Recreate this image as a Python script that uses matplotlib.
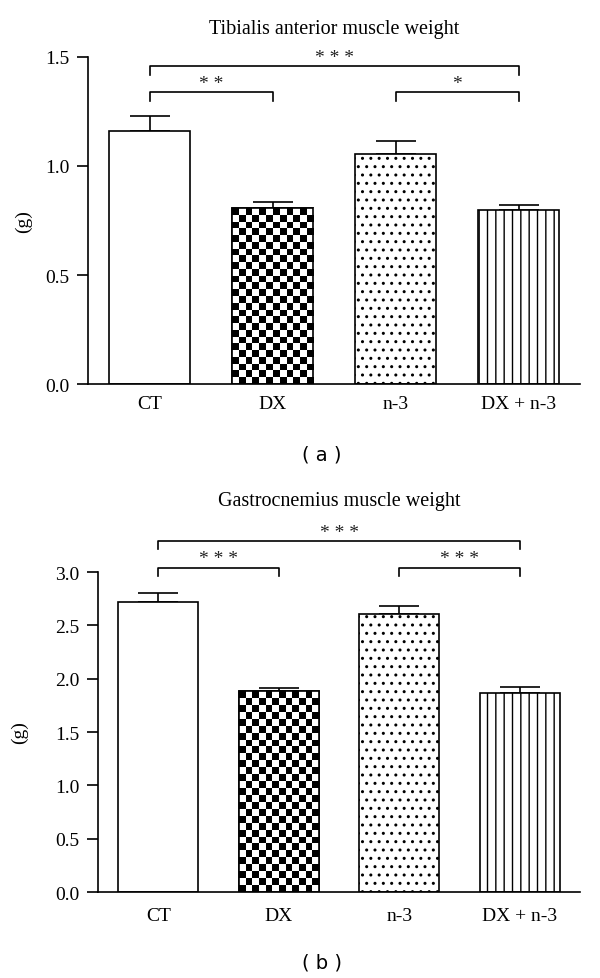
import numpy as np
import matplotlib
matplotlib.use('Agg')
import matplotlib.pyplot as plt

plt.rcParams['font.family'] = ['Liberation Serif', 'DejaVu Serif']
plt.rcParams['hatch.linewidth'] = 1.0

groups = ['CT', 'DX', 'n-3', 'DX + n-3']

# (a) tibialis anterior, g
ta_mean = [1.16, 0.807, 1.055, 0.80]
ta_sem = [0.07, 0.03, 0.06, 0.022]
ta_sig = [(0, 3, 1.457, '* * *'), (0, 1, 1.338, '* *'), (2, 3, 1.338, '*')]

# (b) gastrocnemius, g
gas_mean = [2.72, 1.88, 2.61, 1.865]
gas_sem = [0.08, 0.035, 0.07, 0.06]
gas_sig = [(0, 3, 3.29, '* * *'), (0, 1, 3.04, '* * *'), (2, 3, 3.04, '* * *')]

FS = 14


def checker(ax, bar, cell=6.8):
    # black/white checkerboard clipped to the bar
    bb = bar.get_window_extent()
    nx = max(1, int(round(bb.width / cell)))
    ny = max(1, int(round(bb.height / cell)))
    board = np.add.outer(np.arange(ny), np.arange(nx)) % 2
    x0 = bar.get_x()
    im = ax.imshow(board, cmap='gray', vmin=0, vmax=1, interpolation='nearest',
                   extent=(x0, x0 + bar.get_width(), 0, bar.get_height()),
                   aspect='auto', zorder=2.5)
    im.set_clip_path(bar)


def panel(ax, means, sems, ylim, yticks, sig, drop, title, title_y, ylab_x):
    x = np.arange(len(groups))
    ax.set_xlim(-0.5, 3.5)
    ax.set_ylim(*ylim)
    ax.errorbar(x, means, yerr=[np.zeros(len(sems)), sems], fmt='none',
                ecolor='black', elinewidth=1.2, capsize=14.5, capthick=1.2,
                zorder=1)
    bars = ax.bar(x, means, width=0.66, color='white', edgecolor='black',
                  linewidth=1.2, zorder=2)
    bars[2].set_hatch('..')
    bars[3].set_hatch('||')
    checker(ax, bars[1])
    # redraw DX outline over the checkerboard
    ax.bar(x[1], means[1], width=0.66, fill=False, edgecolor='black',
           linewidth=1.2, zorder=3)
    ax.set_xlim(-0.5, 3.5)
    ax.set_ylim(*ylim)

    for i, j, lvl, txt in sig:
        ax.plot([i, i, j, j], [lvl - drop, lvl, lvl, lvl - drop], color='black',
                lw=1.2, clip_on=False)
        ax.annotate(txt, xy=((i + j) / 2, lvl), xytext=(0, 6.5),
                    textcoords='offset points', ha='center', va='center',
                    fontsize=14, color='#222222', annotation_clip=False)

    ax.set_xticks(x)
    ax.set_xticklabels(groups)
    ax.set_yticks(yticks)
    ax.set_yticklabels(['%.1f' % v for v in yticks])
    ax.tick_params(axis='x', length=0, pad=8, labelsize=FS)
    ax.tick_params(axis='y', direction='out', length=8, width=1.2, pad=5.5,
                   labelsize=FS)
    for s in ['top', 'right']:
        ax.spines[s].set_visible(False)
    for s in ['left', 'bottom']:
        ax.spines[s].set_linewidth(1.2)
    ax.set_ylabel('(g)', fontsize=FS)
    ax.yaxis.set_label_coords(ylab_x, 0.5)
    ax.text(0.5, title_y, title, transform=ax.transAxes, ha='center',
            va='center', fontsize=14.5)


fig = plt.figure(figsize=(6, 9.79), dpi=100)
ax1 = fig.add_axes([0.1467, 0.6067, 0.82, 0.3341])
ax2 = fig.add_axes([0.1633, 0.0878, 0.8034, 0.3269])

panel(ax1, ta_mean, ta_sem, (0, 1.5), [0.0, 0.5, 1.0, 1.5], ta_sig, 0.042,
      'Tibialis anterior muscle weight', 1.086, -0.114)
panel(ax2, gas_mean, gas_sem, (0, 3.0), [0.0, 0.5, 1.0, 1.5, 2.0, 2.5, 3.0],
      gas_sig, 0.075, 'Gastrocnemius muscle weight', 1.222, -0.145)
ax2.tick_params(axis='x', pad=11)

fig.text(322 / 600, 1 - 455 / 979, '( a )', ha='center', va='center',
         fontsize=14, family='DejaVu Sans')
fig.text(322 / 600, 1 - 963 / 979, '( b )', ha='center', va='center',
         fontsize=14, family='DejaVu Sans')

fig.savefig('out.png', dpi=100)
